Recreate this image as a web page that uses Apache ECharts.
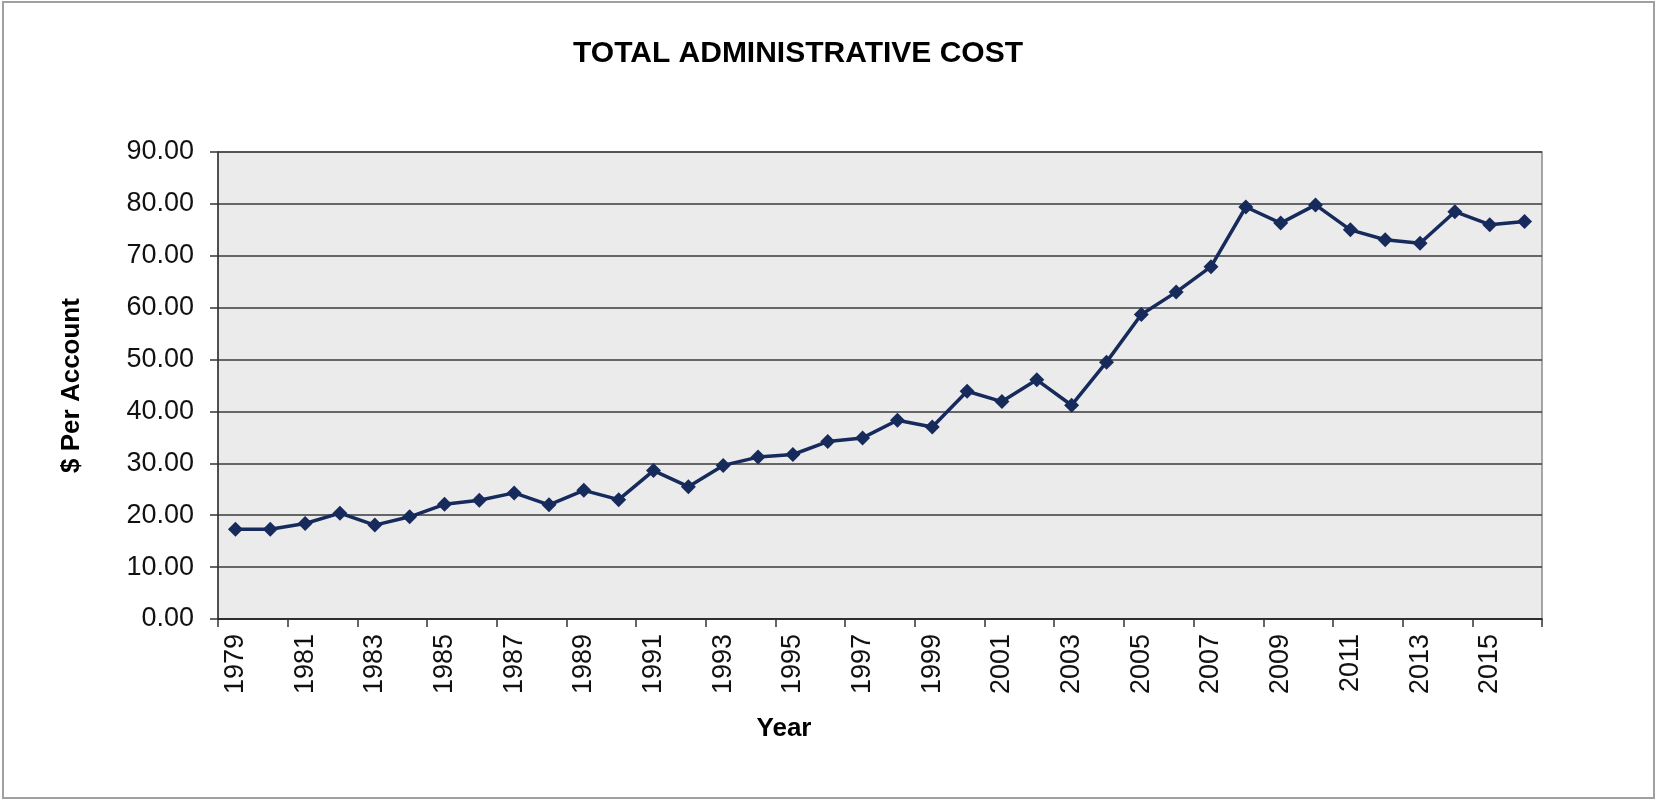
<!DOCTYPE html>
<html>
<head>
<meta charset="utf-8">
<script src="https://cdn.jsdelivr.net/npm/echarts@6/dist/echarts.min.js"></script>
<style>
html,body{margin:0;padding:0;background:#fff;}
#chart{width:1657px;height:802px;}
</style>
</head>
<body>
<div id="chart"></div>
<script>
const years = ['1979','1980','1981','1982','1983','1984','1985','1986','1987','1988','1989','1990','1991','1992','1993','1994','1995','1996','1997','1998','1999','2000','2001','2002','2003','2004','2005','2006','2007','2008','2009','2010','2011','2012','2013','2014','2015','2016'];
const costPerAccount = [17.3,17.3,18.4,20.4,18.1,19.7,22.1,22.9,24.3,22.0,24.8,23.0,28.6,25.5,29.6,31.2,31.7,34.2,34.9,38.3,37.0,43.9,41.9,46.1,41.2,49.5,58.7,63.0,67.9,79.4,76.3,79.8,75.0,73.1,72.4,78.5,76.0,76.6];
const titleText = 'TOTAL ADMINISTRATIVE COST';
const yAxisName = '$ Per Account';
const xAxisName = 'Year';

const FONT = "'Liberation Sans', Arial, sans-serif";
const chart = echarts.init(document.getElementById('chart'), null, {renderer: 'canvas'});
chart.setOption({
  animation: false,
  backgroundColor: '#ffffff',
  title: {
    text: titleText,
    left: 793,
    top: 34,
    textAlign: 'center',
    textStyle: {fontFamily: FONT, fontSize: 30, fontWeight: 'bold', color: '#000'}
  },
  graphic: [{
    type: 'rect',
    shape: {x: 3, y: 2, width: 1651, height: 796},
    style: {fill: 'none', stroke: '#a0a0a0', lineWidth: 2},
    silent: true
  }],
  grid: {
    left: 218, right: 115, top: 152, bottom: 183,
    show: true,
    backgroundColor: '#ebebeb',
    borderColor: '#8a8a8a',
    borderWidth: 1.5
  },
  xAxis: {
    type: 'category',
    data: years,
    boundaryGap: true,
    name: xAxisName,
    nameLocation: 'middle',
    nameGap: 97,
    nameTextStyle: {fontFamily: FONT, fontSize: 26, fontWeight: 'bold', color: '#000', verticalAlign: 'top', padding: [0, 192, 0, 0]},
    axisLine: {lineStyle: {color: '#222', width: 1.5}},
    axisTick: {show: true, interval: 1, length: 8, inside: false, lineStyle: {color: '#333', width: 1.5}},
    axisLabel: {interval: 1, rotate: 90, margin: 15, fontFamily: FONT, fontSize: 27, color: '#111'},
    splitLine: {show: false}
  },
  yAxis: {
    type: 'value',
    min: 0, max: 90, interval: 10,
    name: yAxisName,
    nameLocation: 'middle',
    nameGap: 133,
    nameRotate: 90,
    nameTextStyle: {fontFamily: FONT, fontSize: 26, fontWeight: 'bold', color: '#000'},
    axisLine: {show: true, lineStyle: {color: '#333', width: 1.5}},
    axisTick: {show: true, length: 8, lineStyle: {color: '#333', width: 1.5}},
    axisLabel: {margin: 24, fontFamily: FONT, fontSize: 27, color: '#111', formatter: v => v.toFixed(2)},
    splitLine: {show: true, lineStyle: {color: '#3a3a3a', width: 1.5}}
  },
  series: [{
    type: 'line',
    data: costPerAccount,
    symbol: 'diamond',
    symbolSize: 15,
    showAllSymbol: true,
    lineStyle: {color: '#172a5c', width: 3.5},
    itemStyle: {color: '#172a5c'}
  }]
});
</script>
</body>
</html>
